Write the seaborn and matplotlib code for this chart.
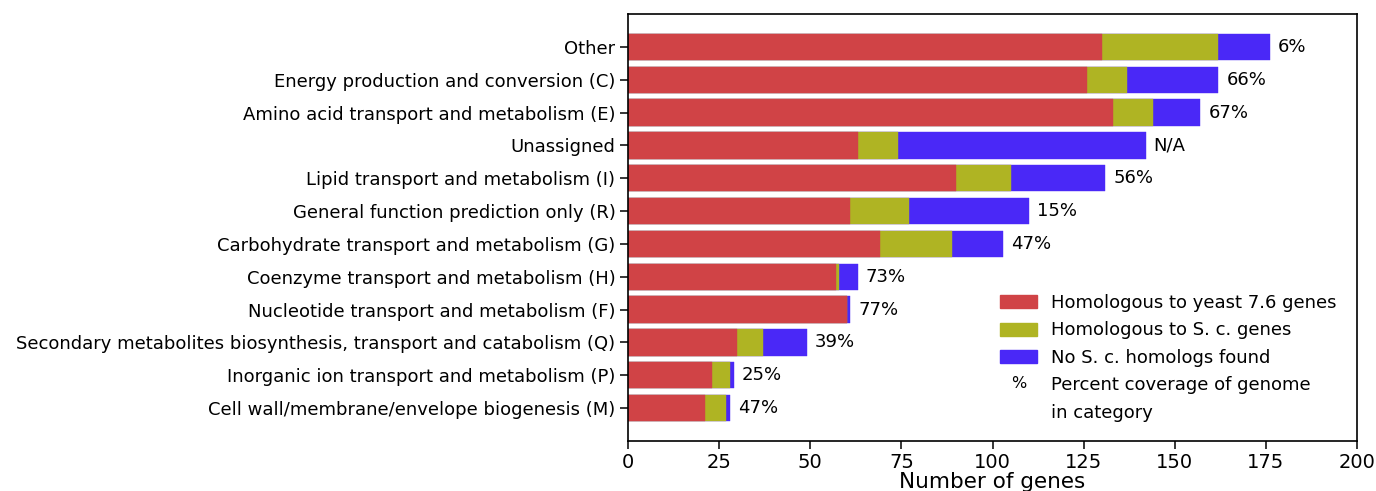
import matplotlib
matplotlib.use("Agg")
import matplotlib.pyplot as plt
import seaborn as sns
import pandas as pd
from matplotlib.legend_handler import HandlerBase
from matplotlib.patches import Patch
import matplotlib.text as mtext

categories = [
    "Other",
    "Energy production and conversion (C)",
    "Amino acid transport and metabolism (E)",
    "Unassigned",
    "Lipid transport and metabolism (I)",
    "General function prediction only (R)",
    "Carbohydrate transport and metabolism (G)",
    "Coenzyme transport and metabolism (H)",
    "Nucleotide transport and metabolism (F)",
    "Secondary metabolites biosynthesis, transport and catabolism (Q)",
    "Inorganic ion transport and metabolism (P)",
    "Cell wall/membrane/envelope biogenesis (M)",
]
yeast76 = [130, 126, 133, 63, 90, 61, 69, 57, 60, 30, 23, 21]
sc_homologs = [32, 11, 11, 11, 15, 16, 20, 1, 0, 7, 5, 6]
no_sc = [14, 25, 13, 68, 26, 33, 14, 5, 1, 12, 1, 1]
coverage = ["6%", "66%", "67%", "N/A", "56%", "15%", "47%", "73%", "77%", "39%", "25%", "47%"]
xticks = [0, 25, 50, 75, 100, 125, 150, 175, 200]

series_labels = ["Homologous to yeast 7.6 genes", "Homologous to S. c. genes", "No S. c. homologs found"]
colors = ["#d04346", "#afb423", "#4a28f7"]

sns.set_style("ticks")
plt.rcParams["font.family"] = ["DejaVu Sans"]
plt.rcParams["text.color"] = "black"
plt.rcParams["xtick.color"] = "black"
plt.rcParams["ytick.color"] = "black"
plt.rcParams["axes.labelcolor"] = "black"

df = pd.DataFrame({"cat": categories, "a": yeast76, "b": sc_homologs, "c": no_sc})
df["ab"] = df["a"] + df["b"]
df["abc"] = df["ab"] + df["c"]

W, H = 1376, 491
fig = plt.figure(figsize=(W / 100, H / 100), dpi=100)
ax = fig.add_axes([628 / W, 1 - 441 / H, (1357 - 628) / W, (441 - 14) / H])

for col, c in zip(["abc", "ab", "a"], [colors[2], colors[1], colors[0]]):
    sns.barplot(data=df, x=col, y="cat", color=c, orient="h", ax=ax, width=0.8,
                saturation=1, edgecolor=c, linewidth=0.3)

for i, (tot, lab) in enumerate(zip(df["abc"], coverage)):
    ax.text(tot + 2.2, i, lab, va="center", ha="left", fontsize=13, color="black")

ax.set_xlim(0, 200)
ax.set_ylim(12.0, -1.0)
ax.set_xticks(xticks)
ax.tick_params(axis="y", labelsize=13, direction="out", length=6, width=1.1, pad=3)
ax.tick_params(axis="x", labelsize=14, direction="out", length=6, width=1.1, pad=3)
ax.set_ylabel("")
ax.set_xlabel("Number of genes", fontsize=15.5, labelpad=0)
for s in ax.spines.values():
    s.set_visible(True)
    s.set_color("black")
    s.set_linewidth(1.2)


class TextHandle:
    def __init__(self, s):
        self.s = s


class TextHandler(HandlerBase):
    def create_artists(self, legend, orig_handle, xdescent, ydescent, width, height, fontsize, trans):
        t = mtext.Text(width / 2 - xdescent, height / 2 - ydescent, orig_handle.s, ha="center",
                       va="center", fontsize=11.5, transform=trans, color="black")
        return [t]


handles = [Patch(facecolor=c, edgecolor=c) for c in colors] + [TextHandle("%"), TextHandle("")]
labels = series_labels + ["Percent coverage of genome", "in category"]
leg = ax.legend(handles, labels, loc="upper left", frameon=False, fontsize=13,
                handler_map={TextHandle: TextHandler()},
                bbox_to_anchor=(1000 / W, 1 - 294 / H), bbox_transform=fig.transFigure,
                borderpad=0, borderaxespad=0,
                handlelength=2.05, handleheight=0.72, handletextpad=0.8, labelspacing=0.52)

fig.savefig("out.png", dpi=100)
